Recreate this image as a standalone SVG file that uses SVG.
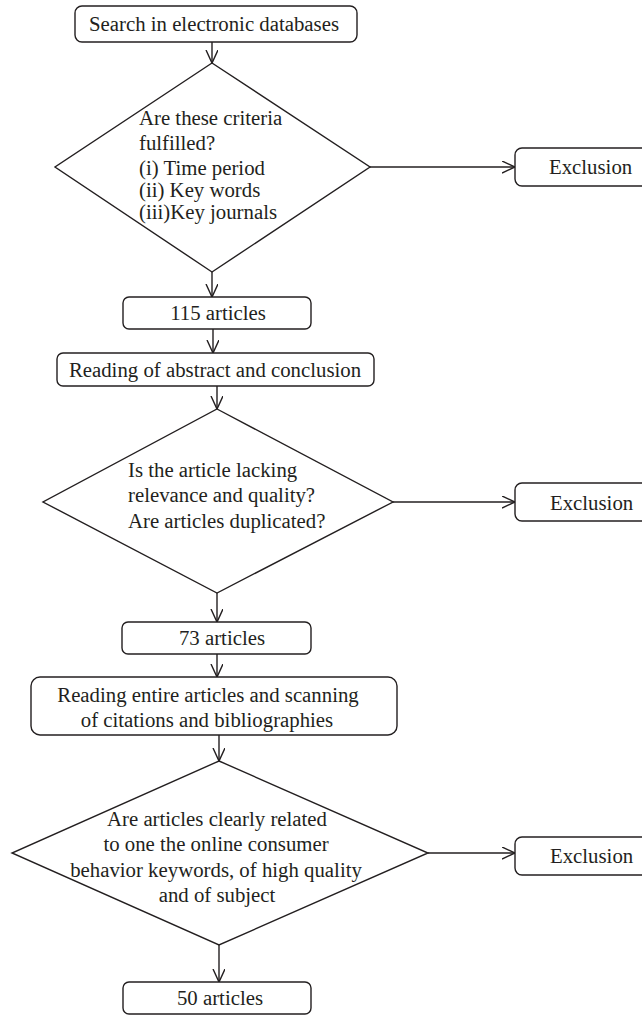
<svg xmlns="http://www.w3.org/2000/svg" width="642" height="1015" viewBox="0 0 642 1015">
<style>
.box{fill:#fff;stroke:#231f20;stroke-width:1.4}
.dia{fill:#fff;stroke:#231f20;stroke-width:1.4}
.t{font-family:"Liberation Serif","Times New Roman",serif;font-size:20.8px;fill:#231f20}
.c{text-anchor:middle}
.edge{fill:none;stroke:#231f20;stroke-width:1.4;marker-end:url(#arr)}
</style>
<defs>
<marker id="arr" markerUnits="userSpaceOnUse" markerWidth="16" markerHeight="16" refX="13" refY="6" orient="auto">
<path d="M0,0 L13,6 L0,12" fill="none" stroke="#231f20" stroke-width="1.4"/>
</marker>
</defs>
<rect width="642" height="1015" fill="#fff"/>
<g id="connectors">
<line class="edge" x1="212" y1="42" x2="212" y2="63"/>
<line class="edge" x1="370" y1="167" x2="515" y2="167"/>
<line class="edge" x1="212" y1="272" x2="212" y2="297"/>
<line class="edge" x1="213" y1="329" x2="213" y2="353"/>
<line class="edge" x1="217" y1="386" x2="217" y2="409"/>
<line class="edge" x1="393" y1="502" x2="515" y2="502"/>
<line class="edge" x1="217" y1="593" x2="217" y2="622"/>
<line class="edge" x1="217" y1="654" x2="217" y2="677"/>
<line class="edge" x1="219" y1="735" x2="219" y2="761"/>
<line class="edge" x1="428" y1="853" x2="515" y2="853"/>
<line class="edge" x1="219" y1="945" x2="219" y2="982"/>
</g>
<g id="n1"><rect class="box" x="75" y="6" width="282" height="36" rx="7"/><text class="t c" x="214" y="31">Search in electronic databases</text></g>
<g id="d1"><polygon class="dia" points="212,63 370,167 212,272 55,167"/>
<text class="t" x="139" y="125">Are these criteria</text>
<text class="t" x="139" y="150">fulfilled?</text>
<text class="t" x="139" y="175">(i) Time period</text>
<text class="t" x="139" y="197">(ii) Key words</text>
<text class="t" x="139" y="219">(iii)Key journals</text></g>
<g id="e1"><rect class="box" x="515" y="148" width="140" height="38" rx="7"/><text class="t" x="549" y="174">Exclusion</text></g>
<g id="n2"><rect class="box" x="123" y="297" width="188" height="32" rx="6"/><text class="t c" x="218" y="320">115 articles</text></g>
<g id="n3"><rect class="box" x="57" y="353" width="317" height="33" rx="6"/><text class="t c" x="215" y="377">Reading of abstract and conclusion</text></g>
<g id="d2"><polygon class="dia" points="217,409 393,502 217,593 43,502"/>
<text class="t" x="128" y="477">Is the article lacking</text>
<text class="t" x="128" y="502">relevance and quality?</text>
<text class="t" x="128" y="528">Are articles duplicated?</text></g>
<g id="e2"><rect class="box" x="515" y="483" width="140" height="38" rx="7"/><text class="t" x="550" y="510">Exclusion</text></g>
<g id="n4"><rect class="box" x="122" y="622" width="189" height="32" rx="6"/><text class="t c" x="222" y="645">73 articles</text></g>
<g id="n5"><rect class="box" x="31" y="677" width="366" height="58" rx="9"/>
<text class="t c" x="208" y="702">Reading entire articles and scanning</text>
<text class="t c" x="207" y="727">of citations and bibliographies</text></g>
<g id="d3"><polygon class="dia" points="219,761 428,853 219,945 12,853"/>
<text class="t c" x="217" y="826">Are articles clearly related</text>
<text class="t c" x="216" y="851">to one the online consumer</text>
<text class="t c" x="216" y="877">behavior keywords, of high quality</text>
<text class="t c" x="217" y="902">and of subject</text></g>
<g id="e3"><rect class="box" x="515" y="837" width="140" height="38" rx="7"/><text class="t" x="550" y="863">Exclusion</text></g>
<g id="n6"><rect class="box" x="123" y="982" width="188" height="32" rx="6"/><text class="t c" x="220" y="1005">50 articles</text></g>
</svg>
